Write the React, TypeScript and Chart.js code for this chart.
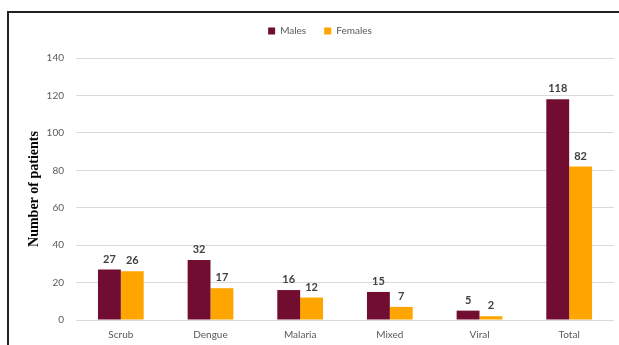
import React, { useEffect, useRef } from "react";
import { Chart, registerables } from "chart.js";

Chart.register(...registerables);

const categories = ["Scrub", "Dengue", "Malaria", "Mixed", "Viral", "Total"];
const males = [27, 32, 16, 15, 5, 118];
const females = [26, 17, 12, 7, 2, 82];
const yTicks = [0, 20, 40, 60, 80, 100, 120, 140];

const MALE_COLOR = "#700D31";
const FEMALE_COLOR = "#FFA500";

// Writes each bar's value just above its top.
const valueLabels = {
  id: "valueLabels",
  afterDatasetsDraw(chart: any) {
    const ctx = chart.ctx;
    ctx.save();
    ctx.font = "bold 11px Lato";
    ctx.fillStyle = "#404040";
    ctx.textAlign = "center";
    ctx.textBaseline = "bottom";
    chart.data.datasets.forEach((ds: any, di: number) => {
      const meta = chart.getDatasetMeta(di);
      meta.data.forEach((bar: any, i: number) => {
        ctx.fillText(String(ds.data[i]), bar.x, bar.y - 5);
      });
    });
    ctx.restore();
  },
};

// Leaves extra room between the legend and the plot area.
const legendGap = {
  id: "legendGap",
  afterInit(chart: any) {
    const legend = chart.legend;
    if (!legend) return;
    const fit = legend.fit;
    legend.fit = function () {
      fit.call(this);
      this.height += 12;
    };
  },
};

export default function App() {
  const canvasRef = useRef<HTMLCanvasElement>(null);

  useEffect(() => {
    if (!canvasRef.current) return;
    const chart = new Chart(canvasRef.current, {
      type: "bar",
      data: {
        labels: categories,
        datasets: [
          { label: "Males", data: males, backgroundColor: MALE_COLOR },
          { label: "Females", data: females, backgroundColor: FEMALE_COLOR },
        ],
      },
      options: {
        animation: false,
        responsive: false,
        maintainAspectRatio: false,
        layout: { padding: { left: 26, right: 5, top: 8, bottom: 0 } },
        datasets: {
          bar: { categoryPercentage: 0.51, barPercentage: 1 },
        },
        plugins: {
          tooltip: { enabled: false },
          legend: {
            position: "top",
            labels: {
              boxWidth: 7,
              boxHeight: 7,
              padding: 18,
              color: "#595959",
              font: { family: "Lato", size: 10 },
            },
          },
        },
        scales: {
          x: {
            afterFit(axis: any) {
              axis.height = 25;
            },
            grid: { display: false },
            border: { display: false },
            ticks: {
              color: "#595959",
              padding: 1,
              font: { family: "Lato", size: 10 },
            },
          },
          y: {
            min: 0,
            max: 140,
            afterBuildTicks(axis: any) {
              axis.ticks = yTicks.map((v) => ({ value: v }));
            },
            afterFit(axis: any) {
              axis.width = 50;
            },
            grid: { color: "#D9D9D9", drawTicks: false },
            border: { display: false },
            ticks: {
              color: "#595959",
              padding: 12,
              font: { family: "Lato", size: 10 },
            },
            title: {
              display: true,
              text: "Number of patients",
              color: "#000000",
              padding: 0,
              font: { family: "Liberation Serif", size: 14, weight: "bold" },
            },
          },
        },
      },
      plugins: [valueLabels, legendGap],
    });
    return () => chart.destroy();
  }, []);

  return (
    <div style={{ position: "fixed", left: 0, top: 0, width: 619, height: 345, background: "#fff" }}>
      <canvas ref={canvasRef} width={619} height={345} style={{ display: "block" }} />
      <div
        style={{
          position: "absolute",
          left: 7,
          top: 11,
          width: 640,
          height: 360,
          borderTop: "2px solid #222",
          borderLeft: "2px solid #222",
          pointerEvents: "none",
        }}
      />
    </div>
  );
}
